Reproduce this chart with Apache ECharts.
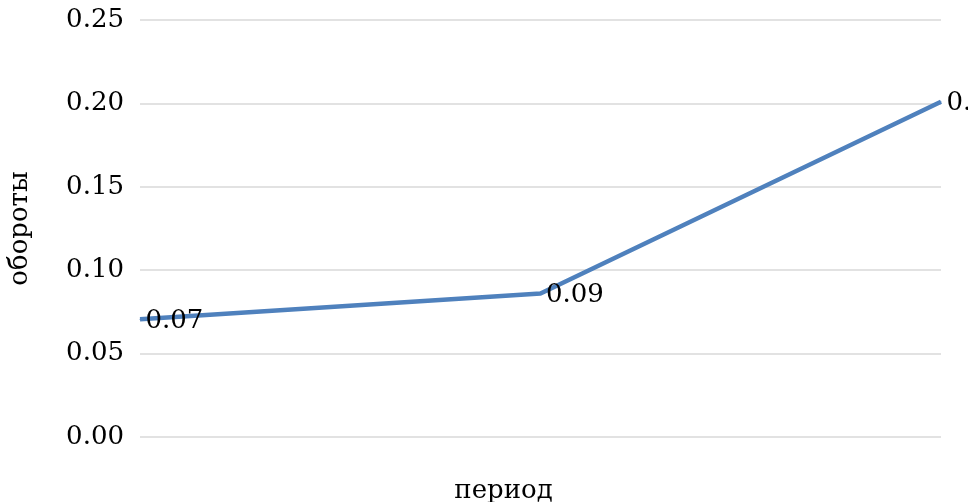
<!DOCTYPE html>
<html>
<head>
<meta charset="utf-8">
<script src="https://cdn.jsdelivr.net/npm/echarts@6/dist/echarts.min.js"></script>
<style>
  html, body { margin: 0; padding: 0; background: #ffffff; }
  #chart { width: 968px; height: 502px; }
</style>
</head>
<body>
<div id="chart"></div>
<script>
// Periods along the horizontal axis (unlabelled on the chart)
const periods = ['1', '2', '3'];
// Turnover per period
const turnover = [0.0706, 0.086, 0.201];
// Vertical axis range and step
const yMin = 0;
const yMax = 0.25;
const yStep = 0.05;

const FONT = '"DejaVu Serif", serif';
const FS = 26;

const chart = echarts.init(document.getElementById('chart'), null, { renderer: 'canvas' });

chart.setOption({
  animation: false,
  backgroundColor: '#ffffff',
  grid: { left: 140, right: 27, top: 20, bottom: 65, containLabel: false, outerBoundsMode: 'none' },
  xAxis: {
    type: 'category',
    data: periods,
    boundaryGap: false,
    axisLine: { show: false },
    axisTick: { show: false },
    axisLabel: { show: false },
    splitLine: { show: false },
    name: 'период',
    nameLocation: 'middle',
    nameGap: 41,
    nameTextStyle: { fontFamily: FONT, fontSize: FS, color: '#000', padding: [0, 74, 0, 0] }
  },
  yAxis: {
    type: 'value',
    min: yMin,
    max: yMax,
    interval: yStep,
    axisLine: { show: false },
    axisTick: { show: false },
    axisLabel: {
      fontFamily: FONT,
      fontSize: FS,
      color: '#000',
      margin: 16,
      formatter: v => v.toFixed(2)
    },
    splitLine: { lineStyle: { color: '#d9d9d9', width: 1.5 } },
    name: 'обороты',
    nameLocation: 'middle',
    nameGap: 107,
    nameRotate: 90,
    nameTextStyle: { fontFamily: FONT, fontSize: FS, color: '#000' }
  },
  series: [{
    type: 'line',
    data: turnover,
    symbol: 'circle',
    symbolSize: 1,
    showSymbol: true,
    lineStyle: { color: '#4f81bd', width: 4.5 },
    itemStyle: { color: '#4f81bd' },
    label: {
      show: true,
      position: 'right',
      distance: 5,
      offset: [0, 2],
      fontFamily: FONT,
      fontSize: FS,
      color: '#000',
      formatter: p => p.value.toFixed(2)
    }
  }]
});
</script>
</body>
</html>
